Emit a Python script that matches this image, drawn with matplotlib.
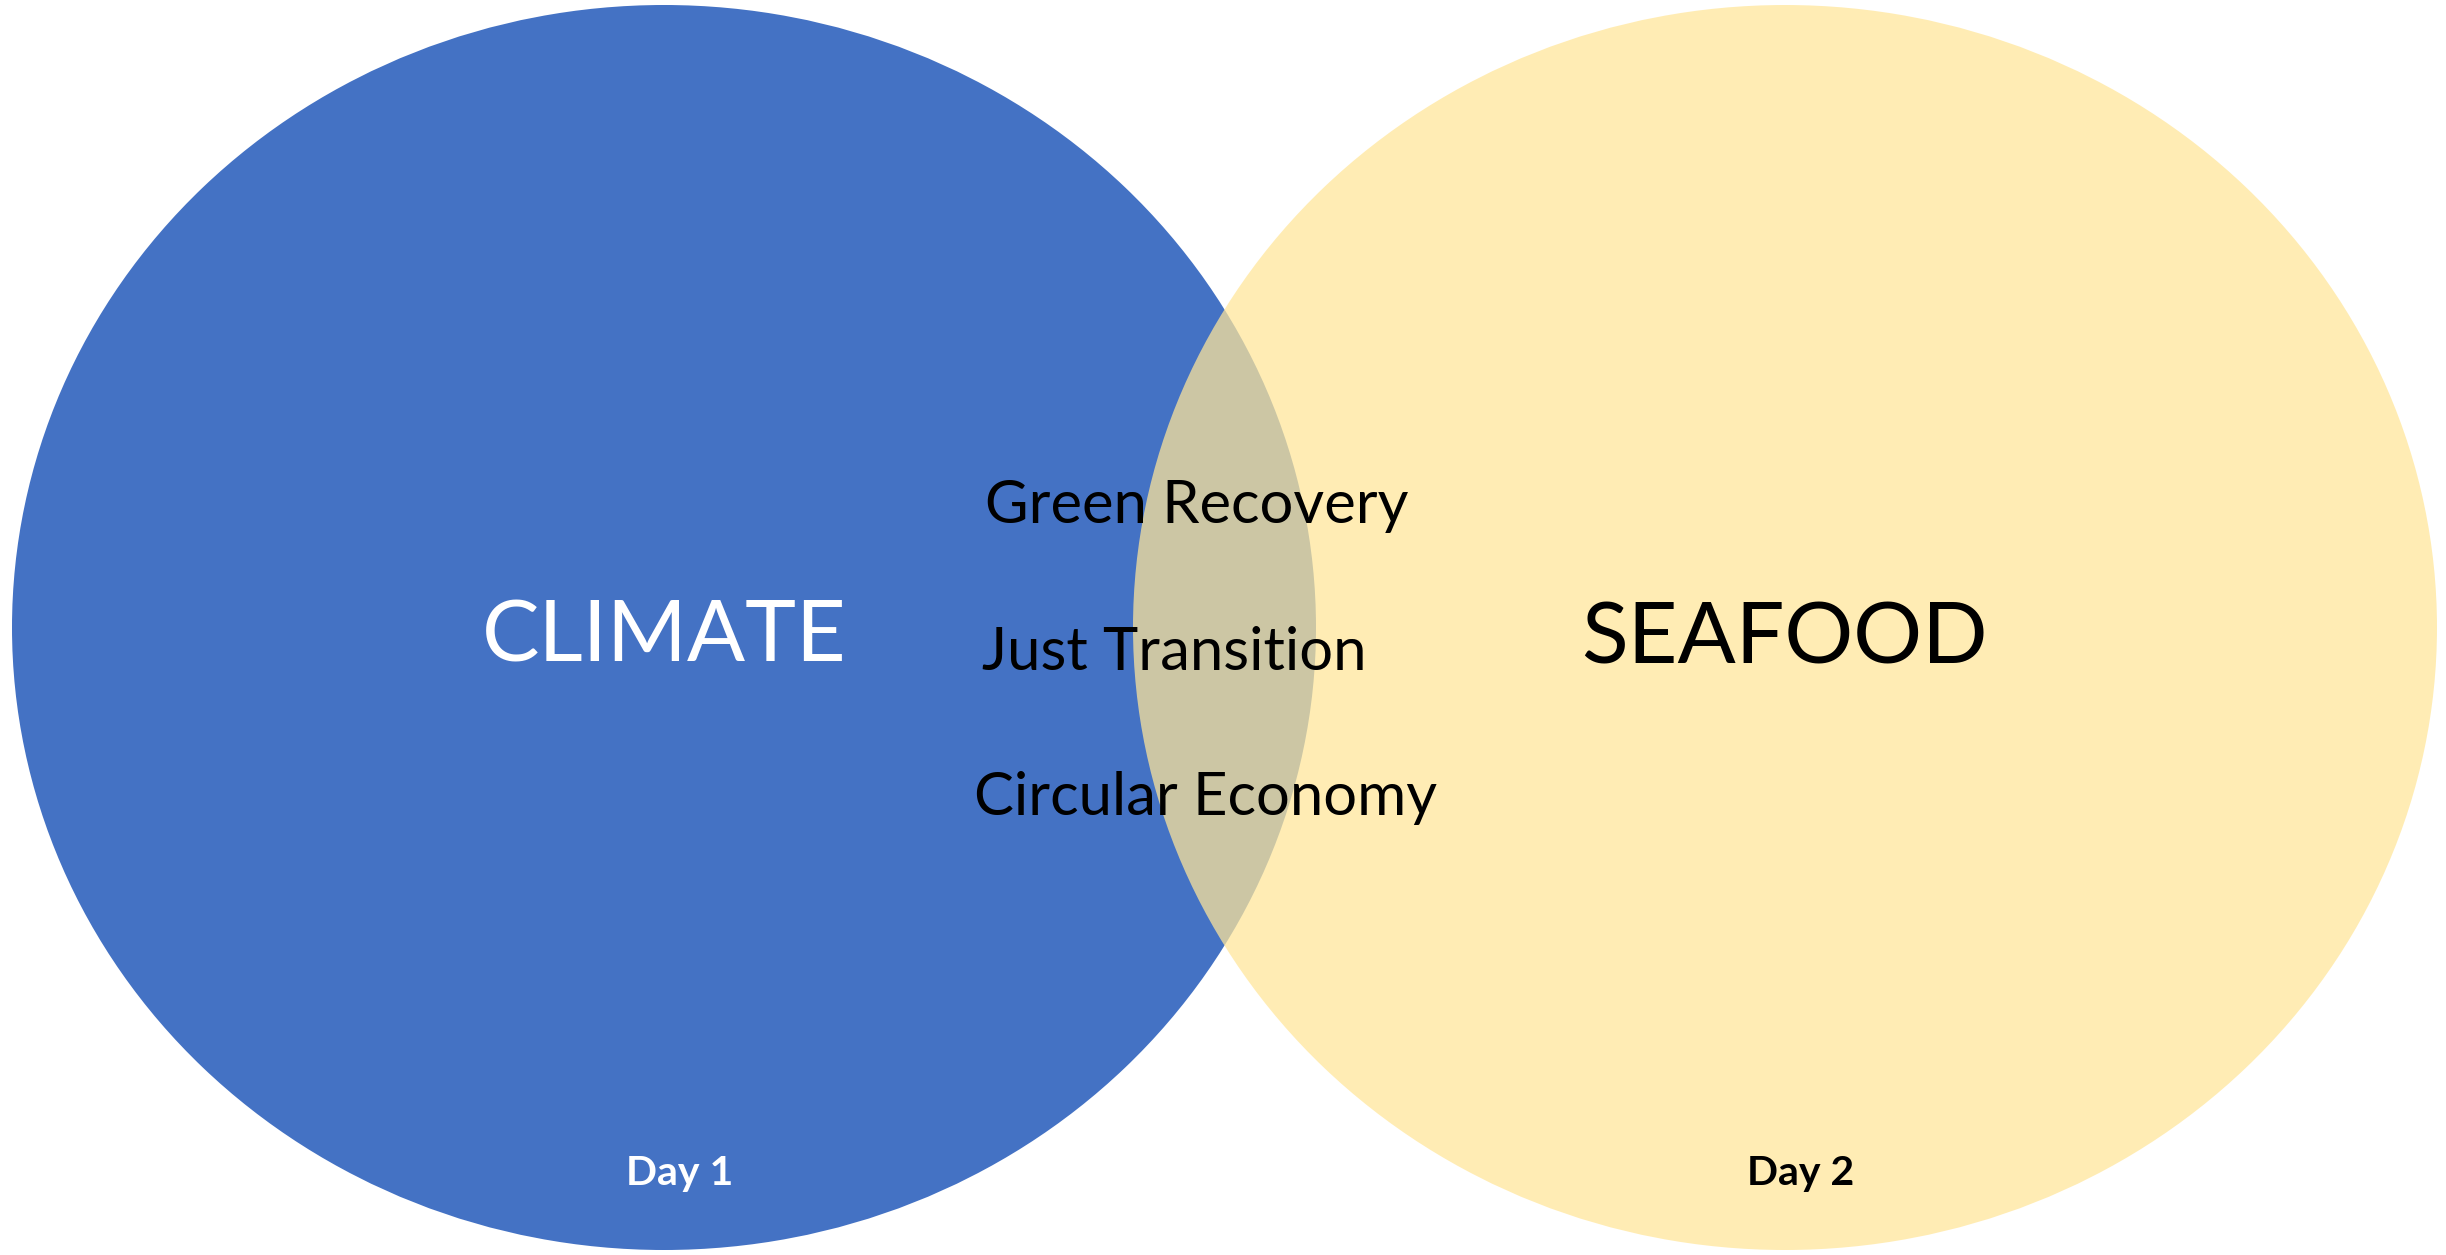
import matplotlib
matplotlib.use("Agg")
import matplotlib.pyplot as plt
from matplotlib.patches import Ellipse

# Data
set_names = ["CLIMATE", "SEAFOOD"]
set_days = ["Day 1", "Day 2"]
overlap_items = ["Green Recovery", "Just Transition", "Circular Economy"]

# Layout (pixel coordinates)
W, H = 2446, 1255
centers = [(664, 627.5), (1785, 627.5)]
ew, eh = 1304, 1245
fills = ["#4472C4", "#FFE699"]
alphas = [1.0, 0.73]
name_colors = ["white", "black"]
name_pos = [(664, 662), (1784, 663)]
name_sizes = [62, 62]
day_pos = [(680, 1185), (1801, 1185)]
item_pos = [(1197, 523), (1174, 670), (1206, 815)]

FONT = "Lato"

fig = plt.figure(figsize=(W / 100, H / 100), dpi=100)
ax = fig.add_axes([0, 0, 1, 1])
ax.set_xlim(0, W)
ax.set_ylim(H, 0)
ax.axis("off")

for c, f, a in zip(centers, fills, alphas):
    ax.add_patch(Ellipse(c, ew, eh, facecolor=f, edgecolor="none", alpha=a))

for name, (x, y), s, col in zip(set_names, name_pos, name_sizes, name_colors):
    ax.text(x, y, name, ha="center", va="baseline", fontsize=s, color=col, family=FONT)

for d, (x, y), col in zip(set_days, day_pos, name_colors):
    ax.text(x, y, d, ha="center", va="baseline", fontsize=29.5, color=col,
            family=FONT, fontweight="bold")

for it, (x, y) in zip(overlap_items, item_pos):
    ax.text(x, y, it, ha="center", va="baseline", fontsize=43, color="black", family=FONT)

fig.savefig("out.png", dpi=100)
